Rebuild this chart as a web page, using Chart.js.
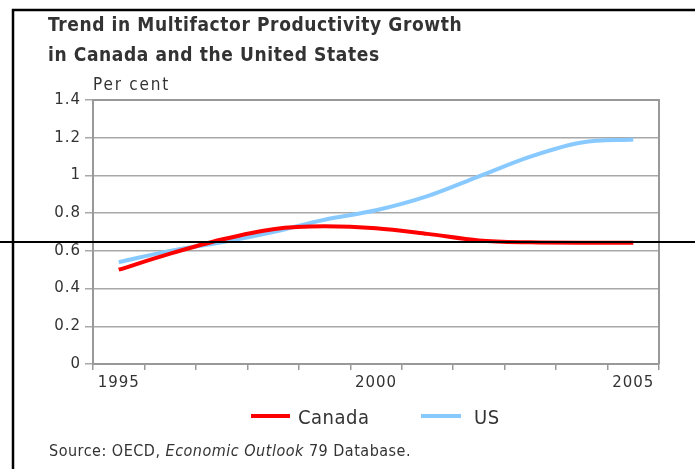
<!DOCTYPE html>
<html>
<head>
<meta charset="utf-8">
<script src="https://cdn.jsdelivr.net/npm/chart.js@4.4.0/dist/chart.umd.min.js"></script>
<style>
  html, body { margin: 0; padding: 0; background: #fff; }
  #wrap { width: 695px; height: 469px; }
</style>
</head>
<body>
<div id="wrap"><canvas id="chart" width="695" height="469"></canvas></div>
<script>
// data
const years = ["1995", "1996", "1997", "1998", "1999", "2000", "2001", "2002", "2003", "2004", "2005"];
const canada = [0.50, 0.585, 0.66, 0.715, 0.73, 0.72, 0.69, 0.655, 0.645, 0.643, 0.643];
const us = [0.54, 0.60, 0.645, 0.70, 0.765, 0.815, 0.89, 0.995, 1.10, 1.175, 1.19];
const yTicks = [0, 0.2, 0.4, 0.6, 0.8, 1, 1.2, 1.4];
const shownYears = ["1995", "2000", "2005"];

const RED = "#ff0000";
const BLUE = "#88caff";
const TEXT = "#333";
const COND = "'DejaVu Sans Condensed', 'DejaVu Sans', sans-serif";

// helper: text with letter spacing
function txt(ctx, s, x, y, font, spacing) {
  ctx.font = font;
  ctx.letterSpacing = spacing + "px";
  ctx.fillText(s, x, y);
  const w = ctx.measureText(s).width;
  ctx.letterSpacing = "0px";
  return w;
}

// titles, legend, source, frame
const decor = {
  id: "decor",
  beforeDraw(chart) {
    chart.ctx.letterSpacing = "1px";
  },
  afterDraw(chart) {
    const ctx = chart.ctx;
    const a = chart.chartArea;
    ctx.save();
    ctx.letterSpacing = "0px";

    // plot border top/right
    ctx.strokeStyle = "#999";
    ctx.lineWidth = 2;
    ctx.beginPath();
    ctx.moveTo(a.left, a.top);
    ctx.lineTo(a.right, a.top);
    ctx.lineTo(a.right, a.bottom);
    ctx.stroke();

    ctx.fillStyle = TEXT;
    ctx.textBaseline = "alphabetic";
    ctx.textAlign = "left";
    txt(ctx, "Trend in Multifactor Productivity Growth", 48, 31, "bold 19px " + COND, 0.6);
    txt(ctx, "in Canada and the United States", 48, 61, "bold 19px " + COND, 0.6);

    txt(ctx, "Per cent", 93, 90, "17px " + COND, 1.8);

    // legend
    ctx.lineWidth = 4;
    ctx.strokeStyle = RED;
    ctx.beginPath(); ctx.moveTo(251, 416); ctx.lineTo(290, 416); ctx.stroke();
    ctx.strokeStyle = BLUE;
    ctx.beginPath(); ctx.moveTo(421, 416); ctx.lineTo(461, 416); ctx.stroke();
    txt(ctx, "Canada", 298, 424, "20px " + COND, 0.5);
    txt(ctx, "US", 474, 424, "20px " + COND, 0.5);

    // source
    let x = 49;
    x += txt(ctx, "Source: OECD, ", x, 456, "16px " + COND, 0.5);
    x += txt(ctx, "Economic Outlook", x, 456, "italic 16px " + COND, 0.5);
    txt(ctx, " 79 Database.", x, 456, "16px " + COND, 0.5);

    // frame and the black rule across the picture
    ctx.strokeStyle = "#000";
    ctx.lineWidth = 2.5;
    ctx.beginPath();
    ctx.moveTo(13, 469);
    ctx.lineTo(13, 10);
    ctx.lineTo(695, 10);
    ctx.stroke();
    ctx.lineWidth = 2;
    ctx.beginPath();
    ctx.moveTo(0, 242);
    ctx.lineTo(695, 242);
    ctx.stroke();
    ctx.restore();
  }
};

new Chart(document.getElementById("chart"), {
  type: "line",
  data: {
    labels: years,
    datasets: [
      {
        label: "Canada",
        data: canada,
        borderColor: RED,
        backgroundColor: RED,
        borderWidth: 4,
        pointRadius: 0,
        cubicInterpolationMode: "monotone",
      },
      {
        label: "US",
        data: us,
        borderColor: BLUE,
        backgroundColor: BLUE,
        borderWidth: 4,
        pointRadius: 0,
        cubicInterpolationMode: "monotone",
      },
    ],
  },
  options: {
    responsive: false,
    animation: false,
    devicePixelRatio: 1,
    layout: { padding: { left: 53, right: 36, top: 100, bottom: 75 } },
    plugins: {
      legend: { display: false },
      tooltip: { enabled: false },
    },
    scales: {
      x: {
        offset: true,
        afterFit: (s) => { s.height = 30; },
        grid: { offset: true, drawOnChartArea: false, drawTicks: true, tickLength: 6, color: "#999", lineWidth: 1.5 },
        border: { color: "#999", width: 2 },
        ticks: {
          autoSkip: false,
          maxRotation: 0,
          padding: 4,
          color: TEXT,
          font: { family: "DejaVu Sans", size: 15 },
          callback: function (v, i) {
            const y = years[i];
            return shownYears.includes(y) ? y : "";
          },
        },
      },
      y: {
        min: 0,
        max: 1.4,
        afterFit: (s) => { s.width = 40; },
        afterBuildTicks: (s) => { s.ticks = yTicks.map((v) => ({ value: v })); },
        grid: { color: "#a8a8a8", lineWidth: 1.5, tickLength: 8 },
        border: { color: "#999", width: 2 },
        ticks: {
          padding: 4,
          color: TEXT,
          font: { family: "DejaVu Sans", size: 15 },
          callback: (v) => String(+v.toFixed(1)),
        },
      },
    },
  },
  plugins: [decor],
});
</script>
</body>
</html>
